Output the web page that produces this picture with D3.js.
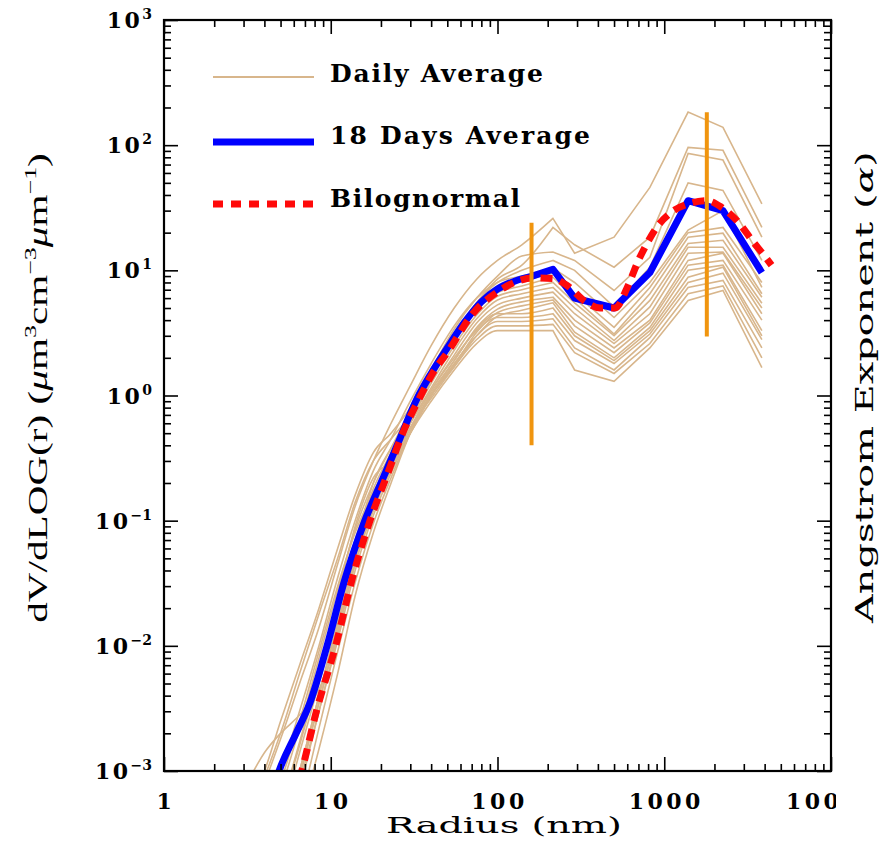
<!DOCTYPE html>
<html lang="en">
<head>
  <meta charset="UTF-8">
  <title>Volume size distribution</title>
  <script src="https://d3js.org/d3.v7.min.js"></script>
  <style>
    body { margin: 0; background: #fff; }
    svg { display: block; }
  </style>
</head>
<body>
<svg width="886" height="847"></svg>
<script>
// radius grid (nm) shared by the daily curves
const dailyRadius = [3, 4, 5, 6.5, 8.5, 11, 14, 18, 23, 30, 40, 55, 75, 100, 140, 215, 290, 500, 820, 1390, 2250, 3850];
const fineCount = 16; // points up to 215 nm come from the fine-mode scan and are drawn smooth

// dV/dlog(r) for each of the 18 days
const dailyValues = [
  [0.0003, 0.0008, 0.0018, 0.005, 0.014, 0.045, 0.13, 0.3, 0.6, 1.2, 2.5, 5, 8.5, 12, 16, 26, 13.7, 18.4, 46, 184, 139, 34],
  [0.0007, 0.0014, 0.002, 0.0028, 0.0045, 0.012, 0.06, 0.2, 0.38, 0.65, 1.3, 3, 5.5, 8.5, 11, 22, 16, 10.6, 18.4, 96, 91, 22],
  [0.0005, 0.001, 0.0025, 0.007, 0.02, 0.06, 0.16, 0.35, 0.5, 0.8, 1.6, 3.4, 6, 9, 13, 14, 12, 6.9, 12.7, 86, 76, 18.4],
  [0.0004, 0.0009, 0.002, 0.006, 0.018, 0.05, 0.14, 0.3, 0.45, 0.7, 1.4, 3, 5.5, 8, 10, 12, 10, 5.1, 10.6, 50, 43.5, 12],
  [0.0002, 0.0005, 0.001, 0.003, 0.01, 0.035, 0.1, 0.25, 0.45, 0.9, 1.8, 3.6, 6, 8, 9, 10.4, 8, 4.2, 8, 21, 30, 7.3],
  [0.0001, 0.0003, 0.0007, 0.0022, 0.008, 0.028, 0.085, 0.2, 0.38, 0.75, 1.5, 3, 5.3, 7.2, 8.2, 9.5, 6.5, 3.5, 7.3, 20, 22, 8],
  [0.00008, 0.0002, 0.0005, 0.0017, 0.006, 0.022, 0.07, 0.18, 0.35, 0.7, 1.4, 2.8, 4.8, 6.6, 7.5, 8.8, 6, 3.1, 6.5, 18.4, 19.8, 6.5],
  [0.00006, 0.00015, 0.0004, 0.0014, 0.005, 0.018, 0.06, 0.16, 0.32, 0.62, 1.25, 2.5, 4.4, 6.2, 7, 8, 5.5, 3, 5.75, 16.4, 17.4, 6.1],
  [0.00005, 0.0001, 0.0003, 0.001, 0.004, 0.015, 0.05, 0.14, 0.3, 0.6, 1.15, 2.3, 4.1, 5.8, 6.5, 7.3, 5, 2.75, 5.1, 15.3, 15.3, 5.45],
  [0.00004, 0.0001, 0.00025, 0.0009, 0.0035, 0.013, 0.045, 0.12, 0.26, 0.55, 1.1, 2.1, 3.8, 5.3, 6, 6.7, 4.5, 2.6, 4.5, 13.7, 14, 5],
  [0.00003, 0.00008, 0.0002, 0.0007, 0.003, 0.011, 0.04, 0.11, 0.24, 0.52, 1.05, 1.9, 3.5, 4.9, 5.6, 6.1, 4, 2.4, 4, 12, 13.7, 4.5],
  [0.00002, 0.00006, 0.00015, 0.0005, 0.0022, 0.009, 0.032, 0.095, 0.22, 0.5, 1.0, 1.75, 3.2, 4.6, 5.2, 5.8, 3.6, 2.2, 3.8, 11, 12, 4],
  [0.00001, 0.00004, 0.0001, 0.0004, 0.0015, 0.006, 0.025, 0.08, 0.2, 0.5, 1.0, 1.7, 3, 4.3, 4.8, 5.5, 3.2, 2, 3.5, 10, 11, 3.3],
  [0.00008, 0.0002, 0.0005, 0.0016, 0.006, 0.025, 0.09, 0.22, 0.3, 0.5, 1.0, 1.9, 3.4, 4.5, 4.5, 5, 3, 1.9, 3.3, 8.8, 10.6, 3],
  [0.0001, 0.0003, 0.0008, 0.0025, 0.009, 0.03, 0.08, 0.17, 0.3, 0.6, 1.1, 2, 3.3, 4.2, 4.2, 4.5, 2.75, 1.8, 3.1, 8, 9.5, 2.8],
  [0.00005, 0.00012, 0.0003, 0.001, 0.004, 0.016, 0.055, 0.15, 0.28, 0.55, 1.0, 1.8, 3, 3.9, 3.9, 4.1, 2.4, 1.6, 2.9, 7.3, 8.3, 2.4],
  [0.00003, 0.0001, 0.0002, 0.0008, 0.003, 0.012, 0.045, 0.13, 0.26, 0.55, 0.95, 1.7, 2.8, 3.6, 3.6, 3.7, 2.2, 1.5, 2.6, 6.5, 7.5, 2],
  [0.00004, 0.0001, 0.00025, 0.0009, 0.0035, 0.014, 0.05, 0.13, 0.25, 0.5, 0.9, 1.6, 2.6, 3.3, 3.3, 3.3, 1.6, 1.3, 2.4, 5.75, 6.9, 1.67]
];

// 18 days average
const avgRadius = [4.5, 4.9, 6.2, 7.5, 9.5, 12, 16, 20, 25, 33, 40, 50, 63, 80, 100, 130, 160, 215, 290, 500, 820, 1390, 2250, 3850];
const avgValues = [0.0007, 0.001, 0.002, 0.0035, 0.01, 0.032, 0.1, 0.2, 0.4, 0.95, 1.5, 2.4, 3.8, 5.6, 7.1, 8.3, 8.95, 10.2, 6.0, 5.0, 9.6, 36, 30, 9.6];
const avgFineCount = 17;

// bilognormal fit
const fitRadius = [6, 6.7, 8.2, 10.7, 13.5, 17.2, 22, 27, 34, 42, 50, 71, 103, 136, 160, 215, 260, 344, 412, 507, 600, 700, 800, 900, 1100, 1400, 1800, 2200, 2800, 3400, 4000, 4400];
const fitValues = [0.0006, 0.001, 0.003, 0.01, 0.035, 0.1, 0.24, 0.5, 0.95, 1.6, 2.2, 4.5, 6.9, 8.3, 8.7, 8.6, 7.6, 5.5, 5.0, 5.0, 7.3, 12, 17, 22, 29, 34, 36, 32, 24, 17, 13, 11];

// orange vertical bars
const barRadius = [160, 1800];
const barLow = [0.4, 2.96];
const barHigh = [24, 183];

const xTicks = [1, 10, 100, 1000, 10000];
const xTickLabels = ["1", "10", "100", "1000", "10000"];
const yTicks = [1e-3, 1e-2, 1e-1, 1e0, 1e1, 1e2, 1e3];
const yTickExp = ["\u22123", "\u22122", "\u22121", "0", "1", "2", "3"];

const legendLabels = ["Daily Average", "18 Days Average", "Bilognormal"];

const svg = d3.select("svg");
const pl = 164, pr = 831, pt = 20, pb = 771;

const x = d3.scaleLog().domain([1, 10000]).range([pl, pr]);
const y = d3.scaleLog().domain([1e-3, 1e3]).range([pb, pt]);

const tan = "#d8b68c", orange = "#f0950f";

// minor ticks 2..9 in every decade
const minors = (lo, hi) => {
  const out = [];
  for (let d = lo; d < hi; d *= 10) for (let k = 2; k <= 9; k++) out.push(d * k);
  return out;
};
const xMinor = minors(1, 10000), yMinor = minors(1e-3, 1e3);

svg.append("clipPath").attr("id", "plot")
  .append("rect").attr("x", pl).attr("y", pt).attr("width", pr - pl).attr("height", pb - pt);

const line = d3.line().x(d => x(d[0])).y(d => y(d[1]));
const smooth = d3.line().x(d => x(d[0])).y(d => y(d[1])).curve(d3.curveMonotoneX);

// smooth through the fine-mode points, straight segments for the coarse ones
function mixedPath(rs, vs, n) {
  const pts = vs.map((v, i) => [rs[i], v]);
  return smooth(pts.slice(0, n)) + line(pts.slice(n - 1)).replace(/^M/, "L");
}

const plot = svg.append("g").attr("clip-path", "url(#plot)");

plot.selectAll("path.daily")
  .data(dailyValues)
  .enter().append("path")
  .attr("class", "daily")
  .attr("d", vals => mixedPath(dailyRadius, vals, fineCount))
  .attr("fill", "none")
  .attr("stroke", tan)
  .attr("stroke-width", 1.6);

plot.append("path")
  .attr("d", mixedPath(avgRadius, avgValues, avgFineCount))
  .attr("fill", "none")
  .attr("stroke", "#0000ff")
  .attr("stroke-width", 7)
  .attr("stroke-linejoin", "round");

plot.append("path")
  .attr("d", smooth(fitValues.map((v, i) => [fitRadius[i], v])))
  .attr("fill", "none")
  .attr("stroke", "#ff0a0a")
  .attr("stroke-width", 7)
  .attr("stroke-dasharray", "12,8");

plot.selectAll("line.bar")
  .data(barRadius)
  .enter().append("line")
  .attr("class", "bar")
  .attr("x1", d => x(d)).attr("x2", d => x(d))
  .attr("y1", (d, i) => y(barLow[i])).attr("y2", (d, i) => y(barHigh[i]))
  .attr("stroke", orange)
  .attr("stroke-width", 4);

// inward ticks on all four sides
function ticks(axis, at, values, size) {
  const g = svg.append("g").attr("transform", at)
    .call(axis.tickValues(values).tickSize(size).tickFormat(""));
  g.select(".domain").remove();
  g.selectAll("line").attr("stroke", "#000").attr("stroke-width", 1.6);
}
ticks(d3.axisBottom(x), `translate(0,${pb})`, xTicks, -14);
ticks(d3.axisBottom(x), `translate(0,${pb})`, xMinor, -7);
ticks(d3.axisTop(x), `translate(0,${pt})`, xTicks, -14);
ticks(d3.axisTop(x), `translate(0,${pt})`, xMinor, -7);
ticks(d3.axisLeft(y), `translate(${pl},0)`, yTicks, -14);
ticks(d3.axisLeft(y), `translate(${pl},0)`, yMinor, -7);
ticks(d3.axisRight(y), `translate(${pr},0)`, yTicks, -14);
ticks(d3.axisRight(y), `translate(${pr},0)`, yMinor, -7);

svg.append("rect")
  .attr("x", pl).attr("y", pt).attr("width", pr - pl).attr("height", pb - pt)
  .attr("fill", "none").attr("stroke", "#000").attr("stroke-width", 2.2);

const serif = "'DejaVu Serif', serif";

// x tick labels (the last one runs off the page edge in the original)
svg.append("clipPath").attr("id", "xlab")
  .append("rect").attr("x", 0).attr("y", 770).attr("width", 836).attr("height", 60);
svg.append("g").attr("clip-path", "url(#xlab)")
  .selectAll("text").data(xTicks).enter().append("text")
  .attr("x", d => x(d) + 2)
  .attr("y", 809)
  .attr("text-anchor", "middle")
  .attr("font-family", serif)
  .attr("font-weight", "bold")
  .attr("font-size", 22)
  .attr("letter-spacing", 3.5)
  .text((d, i) => xTickLabels[i]);

// y tick labels: 10 with a raised exponent
const yl = svg.selectAll("text.ylab").data(yTicks).enter().append("text")
  .attr("class", "ylab")
  .attr("x", 152)
  .attr("y", d => y(d) + 8)
  .attr("text-anchor", "end")
  .attr("font-family", serif)
  .attr("font-weight", "bold")
  .attr("font-size", 22);
yl.append("tspan").attr("letter-spacing", 2.5).text("10");
yl.append("tspan").attr("dy", -9).attr("font-size", 14).text((d, i) => yTickExp[i]);

// stretch a text element along its own baseline to a target length
function fit(text, len) {
  const w = text.node().getComputedTextLength();
  text.attr("transform", `scale(${len / w},1)`);
}

const xtG = svg.append("g").attr("transform", "translate(504,833)");
const xt = xtG.append("text")
  .attr("font-family", serif).attr("font-size", 22)
  .attr("text-anchor", "middle")
  .text("Radius (nm)");
fit(xt, 236);

// left title
const ltG = svg.append("g").attr("transform", "translate(47,388) rotate(-90)");
const lt = ltG.append("text")
  .attr("font-family", "'Liberation Serif', serif")
  .attr("font-size", 27)
  .attr("text-anchor", "middle");
lt.append("tspan").text("dV/dLOG(r) (");
lt.append("tspan").attr("font-style", "italic").text("\u03bc");
lt.append("tspan").text("m");
lt.append("tspan").attr("dy", -11).attr("font-size", 17).text("3");
lt.append("tspan").attr("dy", 11).text("cm");
lt.append("tspan").attr("dy", -11).attr("font-size", 17).text("\u22123");
lt.append("tspan").attr("dy", 11).attr("font-style", "italic").text("\u03bc");
lt.append("tspan").text("m");
lt.append("tspan").attr("dy", -11).attr("font-size", 17).text("\u22121");
lt.append("tspan").attr("dy", 11).text(")");
fit(lt, 470);

// right title
const rtG = svg.append("g").attr("transform", "translate(873,387) rotate(-90)");
const rt = rtG.append("text")
  .attr("font-family", serif)
  .attr("font-size", 25)
  .attr("text-anchor", "middle");
rt.append("tspan").text("Angstrom Exponent (");
rt.append("tspan").attr("font-style", "italic").text("\u03b1");
rt.append("tspan").text(")");
fit(rt, 472);

// legend
const legY = [77, 142, 204];
const legTextY = [82, 144, 207];
const legLen = [213, 260, 190];
const leg = svg.append("g");
leg.append("line").attr("x1", 213).attr("x2", 314).attr("y1", legY[0]).attr("y2", legY[0])
  .attr("stroke", tan).attr("stroke-width", 2);
leg.append("line").attr("x1", 213).attr("x2", 314).attr("y1", legY[1]).attr("y2", legY[1])
  .attr("stroke", "#0000ff").attr("stroke-width", 7);
leg.append("line").attr("x1", 213).attr("x2", 314).attr("y1", legY[2]).attr("y2", legY[2])
  .attr("stroke", "#ff0a0a").attr("stroke-width", 7).attr("stroke-dasharray", "10,8");
leg.selectAll("text").data(legendLabels).enter().append("text")
  .attr("x", 330)
  .attr("y", (d, i) => legTextY[i])
  .attr("font-family", serif)
  .attr("font-weight", "bold")
  .attr("font-size", 25)
  .attr("textLength", (d, i) => legLen[i])
  .attr("lengthAdjust", "spacing")
  .text(d => d);
</script>
</body>
</html>
